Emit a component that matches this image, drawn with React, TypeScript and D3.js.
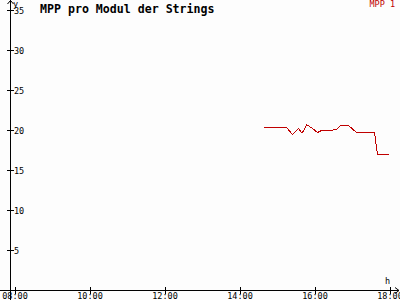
import React from "react";
import * as d3 from "d3";

const times = ["14:37", "15:13", "15:23", "15:32", "15:37", "15:40", "15:46", "15:55", "16:03", "16:10", "16:24", "16:33", "16:40", "16:52", "17:05", "17:35", "17:39", "17:56"];
const values = [20.4, 20.4, 19.5, 20.3, 19.8, 19.9, 20.7, 20.2, 19.7, 20.0, 20.0, 20.1, 20.6, 20.6, 19.8, 19.8, 17.0, 17.0];
const yTicks = [5, 10, 15, 20, 25, 30, 35];
const xTicks = [8, 10, 12, 14, 16, 18];
const title = "MPP pro Modul der Strings";
const seriesName = "MPP 1";

const toHours = (s: string) => {
  const [h, m] = s.split(":").map(Number);
  return h + m / 60;
};
const fmt = (h: number) => (h < 10 ? "0" : "") + h + ":00";

export default function App() {
  const W = 400, H = 300;
  const x = d3.scaleLinear().domain([8, 18]).range([15, 390]);
  const y = d3.scaleLinear().domain([0, 35]).range([290, 10]);
  const data = times.map((t, i) => ({ t: toHours(t), v: values[i] }));
  const line = d3.line<{ t: number; v: number }>().x(d => Math.round(x(d.t)) + 0.5).y(d => Math.round(y(d.v)) + 0.5);
  const axisX = 10.5, axisY = 290.5;
  const mono = "'DejaVu Sans Mono', monospace";
  return (
    <svg width={W} height={H} style={{ position: "absolute", left: 0, top: 0, background: "#fdfdfd" }}>
      <rect x={0} y={0} width={W} height={H} fill="#fdfdfd" />
      {/* axes */}
      <line x1={axisX} y1={0} x2={axisX} y2={300} stroke="#000" strokeWidth={1} shapeRendering="crispEdges" />
      <line x1={0} y1={axisY} x2={399} y2={axisY} stroke="#000" strokeWidth={1} shapeRendering="crispEdges" />
      <path d={`M${axisX - 3},${4} L${axisX},${0.5} L${axisX + 3},${4}`} fill="none" stroke="#000" strokeWidth={1} />
      <path d={`M395,${axisY - 3} L399,${axisY} L395,${axisY + 3}`} fill="none" stroke="#000" strokeWidth={1} />
      {yTicks.map(v => (
        <g key={v}>
          <line x1={7} x2={14} y1={Math.round(y(v)) + 0.5} y2={Math.round(y(v)) + 0.5} stroke="#000" shapeRendering="crispEdges" />
          <text x={14} y={y(v) + 3.5} fontFamily={mono} fontSize={8.5} fill="#000">{v}</text>
        </g>
      ))}
      {xTicks.map(h => (
        <g key={h}>
          <line x1={Math.round(x(h)) + 0.5} x2={Math.round(x(h)) + 0.5} y1={287} y2={294} stroke="#000" shapeRendering="crispEdges" />
          <text x={x(h)} y={299} textAnchor="middle" fontFamily={mono} fontSize={8.5} fill="#000">{fmt(h)}</text>
        </g>
      ))}
      <text x={13} y={7} fontFamily={mono} fontSize={8.5} fill="#000">y</text>
      <text x={385} y={284} fontFamily={mono} fontSize={8.5} fill="#000">h</text>
      <text x={40} y={13} fontFamily={mono} fontSize={11.6} fontWeight="bold" fill="#000">{title}</text>
      <text x={395} y={7} textAnchor="end" fontFamily={mono} fontSize={8.5} fill="#c00000">{seriesName}</text>
      <path d={line(data) || ""} fill="none" stroke="#c00000" strokeWidth={1} shapeRendering="crispEdges" />
    </svg>
  );
}
